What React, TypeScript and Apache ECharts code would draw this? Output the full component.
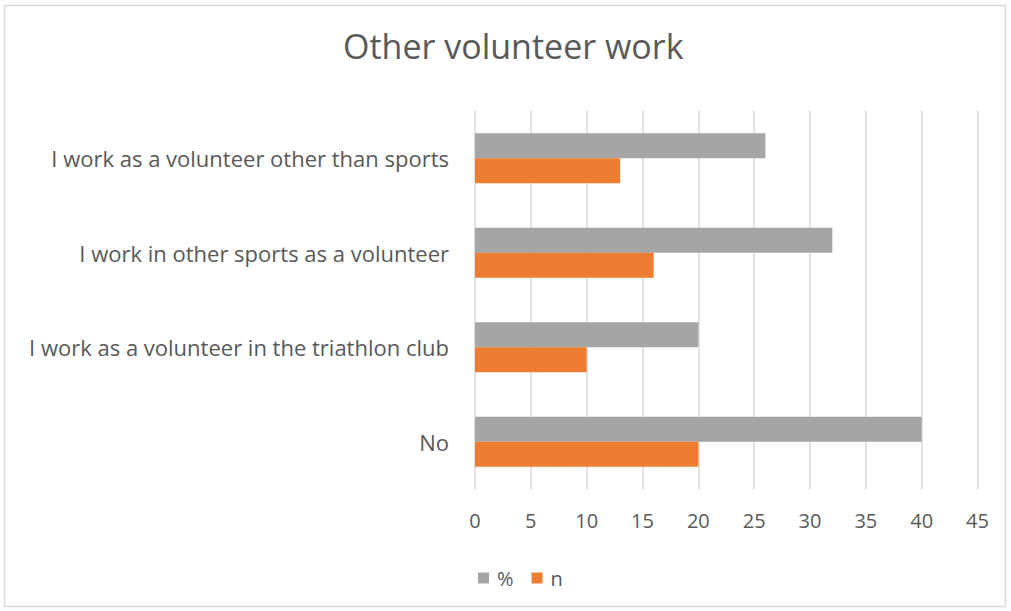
import React, { useEffect, useRef } from "react";
import * as echarts from "echarts";

const categories = [
  "I work as a volunteer other than sports",
  "I work in other sports as a volunteer",
  "I work as a volunteer in the triathlon club",
  "No",
];
const percentValues = [26, 32, 20, 40];
const nValues = [13, 16, 10, 20];
const seriesNames = ["%", "n"];

export default function App() {
  const ref = useRef<HTMLDivElement>(null);
  useEffect(() => {
    const chart = echarts.init(ref.current!, null, { renderer: "svg" });
    const font = "'Open Sans', Lato, sans-serif";
    chart.setOption({
      animation: false,
      backgroundColor: "#ffffff",
      title: {
        text: "Other volunteer work",
        left: 338,
        top: 24,
        textStyle: { fontFamily: font, fontSize: 34, fontWeight: "normal", color: "#595959" },
      },
      graphic: [
        {
          type: "rect",
          shape: { x: 4.5, y: 5.5, width: 1001, height: 601 },
          style: { fill: "none", stroke: "#D9D9D9", lineWidth: 1.5 },
          silent: true,
        },
      ],
      legend: {
        data: seriesNames,
        left: 473,
        top: 563,
        itemWidth: 11,
        itemHeight: 11,
        itemGap: 18,
        icon: "rect",
        textStyle: { fontFamily: font, fontSize: 20, color: "#595959", padding: [0, 0, 0, 3] },
      },
      grid: { left: 475, right: 33.5, top: 111, bottom: 122, containLabel: false },
      xAxis: {
        type: "value",
        min: 0,
        max: 45,
        interval: 5,
        axisLine: { show: false },
        axisTick: { show: false },
        splitLine: { show: true, lineStyle: { color: "#D9D9D9", width: 1.5 } },
        axisLabel: { fontFamily: font, fontSize: 20, color: "#595959", margin: 21 },
      },
      yAxis: {
        type: "category",
        data: categories,
        inverse: true,
        axisLine: { show: false },
        axisTick: { show: false },
        axisLabel: { fontFamily: font, fontSize: 22, color: "#595959", margin: 26 },
      },
      series: [
        {
          name: "%",
          type: "bar",
          data: percentValues,
          barWidth: 25,
          barGap: "0%",
          itemStyle: { color: "#A5A5A5" },
        },
        {
          name: "n",
          type: "bar",
          data: nValues,
          barWidth: 25,
          barGap: "0%",
          itemStyle: { color: "#ED7D31" },
        },
      ],
    });
    return () => chart.dispose();
  }, []);
  return (
    <div
      ref={ref}
      style={{ position: "fixed", left: 0, top: 0, width: 1011, height: 611 }}
    />
  );
}
